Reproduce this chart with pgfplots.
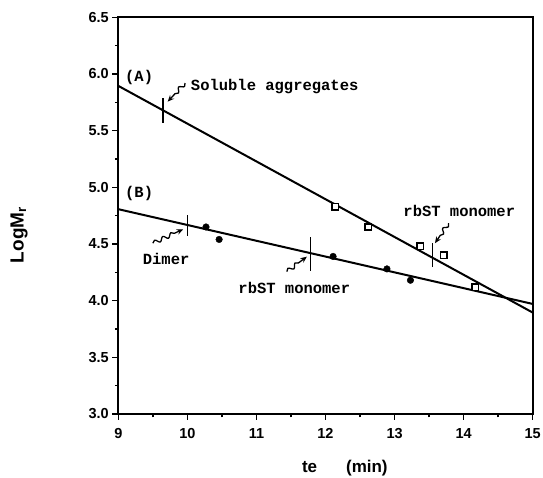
\documentclass[border=0pt]{standalone}
\usepackage{fontspec}
\setmainfont{Liberation Sans}
\newfontfamily\monofont{Liberation Mono}
\usepackage{pgfplots}
\pgfplotsset{compat=1.18}
\usetikzlibrary{decorations.pathmorphing,arrows.meta}
\newcommand{\mono}{\monofont\bfseries\fontsize{15.5}{18}\selectfont}
\tikzset{squig/.style={line width=1.3pt, -{Stealth[length=6.5pt,width=5.5pt]}, decorate,
  decoration={snake, amplitude=2pt, segment length=9pt, pre length=0pt, post length=8pt}}}
\begin{document}
\begin{tikzpicture}
\path[use as bounding box] (-118.3pt,-64pt) rectangle (424.7pt,414pt);
\begin{axis}[
  at={(0pt,0pt)}, anchor=south west,
  width=414.4pt, height=396.7pt, scale only axis,
  xmin=9, xmax=15, ymin=3, ymax=6.5,
  xtick={9,10,11,12,13,14,15},
  ytick={3,3.5,4,4.5,5,5.5,6,6.5},
  minor x tick num=1, minor y tick num=1,
  tick pos=left, tick align=outside,
  major tick length=6pt, minor tick length=3.5pt,
  tick style={line width=1.5pt, black},
  axis line style={line width=2.4pt},
  y tick label style={/pgf/number format/.cd, fixed, fixed zerofill, precision=1},
  /pgf/number format/assume math mode=true,
  tick label style={font=\fontsize{14.5}{16}\selectfont\bfseries},
  xticklabel style={yshift=-5pt},
  clip=false,
]
% fitted lines
\addplot[black, line width=2pt] coordinates {(9,5.895) (15,3.895)};
\addplot[black, line width=2pt] coordinates {(9,4.807) (15,3.971)};
% vertical markers on the lines
\addplot[black, line width=1.6pt] coordinates {(9.643,5.57) (9.643,5.79)};
\addplot[black, line width=1.6pt] coordinates {(10.0,4.571) (10.0,4.756)};
\addplot[black, line width=1.6pt] coordinates {(11.78,4.265) (11.78,4.565)};
\addplot[black, line width=1.6pt] coordinates {(13.55,4.295) (13.55,4.507)};
% data (A): open squares
\addplot[only marks, mark=square*, mark size=3.2pt, mark options={line width=1.5pt, draw=black, fill=white}]
  coordinates {(12.14,4.83) (12.62,4.65) (13.37,4.48) (13.71,4.40) (14.17,4.12)};
% data (B): filled circles
\addplot[only marks, mark=*, mark size=3.3pt, mark options={draw=black, fill=black}]
  coordinates {(10.27,4.65) (10.46,4.54) (12.11,4.39) (12.89,4.28) (13.23,4.18)};
% annotations
\node[anchor=base west, inner sep=0pt, font=\mono] at (axis cs:9.097,5.93) {(A)};
\node[anchor=base west, inner sep=0pt, font=\mono] at (axis cs:9.097,4.906) {(B)};
\node[anchor=base west, inner sep=0pt, font=\mono] at (axis cs:10.049,5.853) {Soluble aggregates};
\node[anchor=base west, inner sep=0pt, font=\mono] at (axis cs:9.353,4.315) {Dimer};
\node[anchor=base west, inner sep=0pt, font=\mono] at (axis cs:10.737,4.06) {rbST monomer};
\node[anchor=base west, inner sep=0pt, font=\mono] at (axis cs:13.126,4.745) {rbST monomer};
\draw[squig] (axis cs:9.966,5.92) -- (axis cs:9.715,5.756);
\draw[squig] (axis cs:9.50,4.507) -- (axis cs:9.94,4.63);
\draw[squig] (axis cs:11.44,4.256) -- (axis cs:11.73,4.388);
\draw[squig] (axis cs:13.78,4.683) -- (axis cs:13.585,4.507);
% axis labels
\node[rotate=90, font=\fontsize{19}{22}\selectfont\bfseries] at ([xshift=-99.3pt]axis cs:9,4.58) {LogM\textsubscript{r}};
\node[anchor=base, font=\fontsize{17}{20}\selectfont\bfseries] at ([yshift=-59pt]axis cs:12.28,3) {te\hspace{29pt}(min)};
\end{axis}
\end{tikzpicture}
\end{document}
